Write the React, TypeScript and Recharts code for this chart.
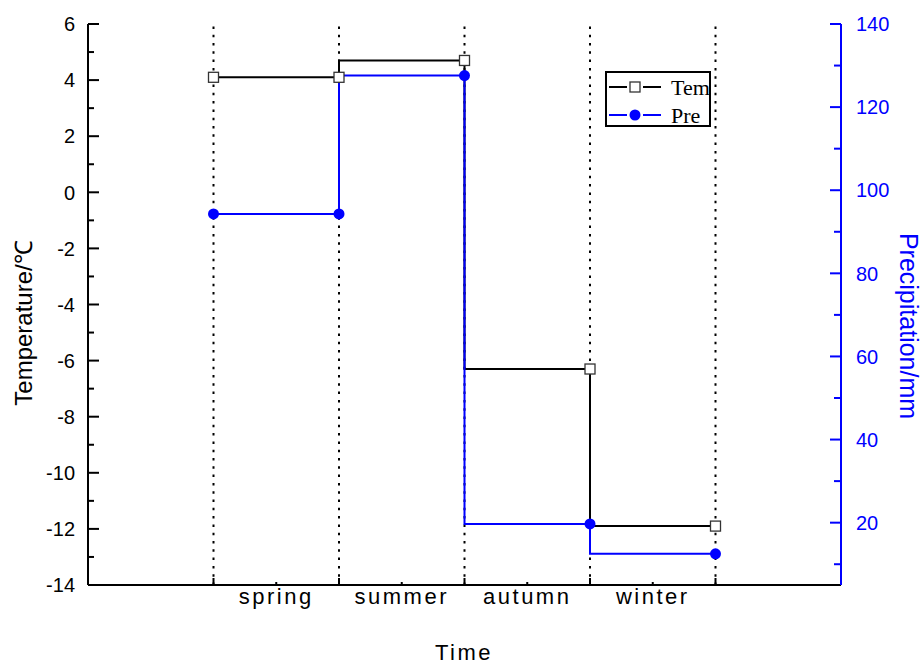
import { Label, Legend, Line, LineChart, ReferenceLine, XAxis, YAxis } from "recharts";

// x positions of the measurements (season boundaries)
const positions = [1, 2, 3, 4, 5];
const temperature = [4.1, 4.1, 4.7, -6.3, -11.9];
const precipitation = [94.3, 94.3, 127.6, 19.7, 12.5];

// season names sit between the boundaries
const seasons = ["spring", "summer", "autumn", "winter"];
const seasonAt = [1.5, 2.5, 3.5, 4.5];

const seriesNames = ["Tem", "Pre"];
const tempTicks = [-14, -13, -12, -11, -10, -9, -8, -7, -6, -5, -4, -3, -2, -1, 0, 1, 2, 3, 4, 5, 6];
const precTicks = [10, 20, 30, 40, 50, 60, 70, 80, 90, 100, 110, 120, 130, 140];
const xTicks = [1, 1.5, 2, 2.5, 3, 3.5, 4, 4.5, 5];

const data = positions.map((t, i) => ({ t, tem: temperature[i], pre: precipitation[i] }));

const SANS = "'Liberation Sans', Arial, sans-serif";
const SERIF = "'Liberation Serif', 'Times New Roman', serif";
const BLUE = "#0000ff";

function LeftTick({ x, y, payload }: any) {
  const v = payload.value;
  const major = v % 2 === 0;
  return (
    <g>
      <line x1={x} x2={x + (major ? 11 : 6)} y1={y} y2={y} stroke="#000" strokeWidth={2} />
      {major && (
        <text x={x - 13} y={y} dy="0.36em" textAnchor="end" fontSize={20} fontFamily={SANS} fill="#000">
          {v}
        </text>
      )}
    </g>
  );
}

function RightTick({ x, y, payload }: any) {
  const v = payload.value;
  const major = v % 20 === 0;
  return (
    <g>
      <line x1={x} x2={x - (major ? 11 : 7)} y1={y} y2={y} stroke={BLUE} strokeWidth={2} />
      {major && (
        <text x={x + 15} y={y} dy="0.36em" textAnchor="start" fontSize={20} fontFamily={SANS} fill={BLUE}>
          {v}
        </text>
      )}
    </g>
  );
}

function BottomTick({ x, y, payload }: any) {
  const v = payload.value;
  const i = seasonAt.indexOf(v);
  if (i < 0) {
    return <line x1={x} x2={x} y1={y} y2={y - 7} stroke="#000" strokeWidth={2} />;
  }
  return (
    <g>
      <line x1={x} x2={x} y1={y} y2={y - 3} stroke="#000" strokeWidth={2} />
      <text x={x} y={y + 19} textAnchor="middle" fontSize={22} letterSpacing={2.5} fontFamily={SANS} fill="#000">
        {seasons[i]}
      </text>
    </g>
  );
}

function SquareDot({ cx, cy, index }: any) {
  return <rect key={index} x={cx - 5} y={cy - 5} width={10} height={10} fill="#fff" stroke="#333" strokeWidth={1.3} />;
}

function RoundDot({ cx, cy, index }: any) {
  return <circle key={index} cx={cx} cy={cy} r={5.5} fill={BLUE} />;
}

function LegendBox({ payload }: any) {
  const items = payload || [];
  return (
    <svg width={106} height={56} style={{ display: "block" }}>
      <rect x={1} y={1} width={104} height={54} fill="#fff" stroke="#000" strokeWidth={2} />
      {seriesNames.map((name, i) => {
        const p = items.find((it: any) => it.value === name);
        const color = p ? p.color : "#000";
        const cy = i === 0 ? 16 : 44;
        return (
          <g key={name}>
            <line x1={4} x2={22} y1={cy} y2={cy} stroke={color} strokeWidth={2} />
            <line x1={38} x2={56} y1={cy} y2={cy} stroke={color} strokeWidth={2} />
            {i === 0 ? (
              <rect x={25} y={cy - 5} width={10} height={10} fill="#fff" stroke="#333" strokeWidth={1.3} />
            ) : (
              <circle cx={30} cy={cy} r={5.5} fill={color} />
            )}
            <text x={66} y={cy + 8} fontSize={22} fontFamily={SERIF} fill="#000">
              {name}
            </text>
          </g>
        );
      })}
    </svg>
  );
}

export default function App() {
  return (
    <div style={{ position: "absolute", left: 0, top: 0, width: 924, height: 666, background: "#fff" }}>
      <LineChart width={924} height={666} data={data} margin={{ top: 24, right: 0, bottom: 0, left: 0 }}>
        <XAxis
          xAxisId="b"
          dataKey="t"
          type="number"
          domain={[0, 6]}
          ticks={xTicks}
          interval={0}
          height={81}
          tickSize={0}
          tickMargin={0}
          tickLine={false}
          tick={<BottomTick />}
          axisLine={{ stroke: "#000", strokeWidth: 2 }}
        >
          <Label
            content={() => (
              <text x={464} y={660} textAnchor="middle" fontSize={22} letterSpacing={2.5} fontFamily={SANS} fill="#000">
                Time
              </text>
            )}
          />
        </XAxis>
        <XAxis
          xAxisId="top"
          orientation="top"
          type="number"
          domain={[0, 6]}
          height={0}
          tick={false}
          tickLine={false}
          axisLine={{ stroke: "#000", strokeWidth: 2 }}
        />
        <YAxis
          yAxisId="tem"
          orientation="left"
          width={88}
          domain={[-14, 6]}
          ticks={tempTicks}
          interval={0}
          tickSize={0}
          tickMargin={0}
          tickLine={false}
          tick={<LeftTick />}
          axisLine={{ stroke: "#000", strokeWidth: 2 }}
        >
          <Label
            content={() => (
              <text
                x={32}
                y={323}
                transform="rotate(-90 32 323)"
                textAnchor="middle"
                fontSize={24}
                fontFamily={SANS}
                fill="#000"
              >
                Temperature/℃
              </text>
            )}
          />
        </YAxis>
        <YAxis
          yAxisId="pre"
          orientation="right"
          width={83}
          domain={[5, 140]}
          ticks={precTicks}
          interval={0}
          tickSize={0}
          tickMargin={0}
          tickLine={false}
          tick={<RightTick />}
          axisLine={{ stroke: BLUE, strokeWidth: 2 }}
        >
          <Label
            content={() => (
              <text
                x={900}
                y={326}
                transform="rotate(90 900 326)"
                textAnchor="middle"
                fontSize={25}
                fontFamily={SANS}
                fill={BLUE}
              >
                Precipitation/mm
              </text>
            )}
          />
        </YAxis>
        {positions.map((p) => (
          <ReferenceLine
            key={p}
            x={p}
            xAxisId="b"
            yAxisId="tem"
            stroke="#000"
            strokeWidth={2}
            strokeDasharray="2.5 5.8"
          />
        ))}
        <Legend
          verticalAlign="middle"
          align="center"
          content={<LegendBox />}
          wrapperStyle={{ position: "absolute", left: 605, top: 71, width: 106, height: 56 }}
        />
        <Line
          xAxisId="b"
          yAxisId="tem"
          name="Tem"
          dataKey="tem"
          type="stepBefore"
          stroke="#000"
          strokeWidth={2}
          dot={SquareDot}
          isAnimationActive={false}
        />
        <Line
          xAxisId="b"
          yAxisId="pre"
          name="Pre"
          dataKey="pre"
          type="stepBefore"
          stroke={BLUE}
          strokeWidth={2}
          dot={RoundDot}
          isAnimationActive={false}
        />
      </LineChart>
    </div>
  );
}
